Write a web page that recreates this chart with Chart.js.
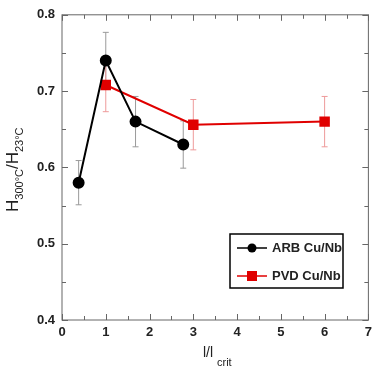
<!DOCTYPE html>
<html>
<head>
<meta charset="utf-8">
<script src="https://cdn.jsdelivr.net/npm/chart.js@4.4.0/dist/chart.umd.min.js"></script>
<style>
  body{margin:0;background:#fff}
  #wrap{width:377px;height:369px;position:relative}
</style>
</head>
<body>
<div id="wrap"><canvas id="mychart"></canvas></div>
<script>
// ARB Cu/Nb
var arbX=[0.38,1,1.68,2.77]
var arbY=[0.58,0.74,0.66,0.63]
var arbErr=[0.029,0.037,0.033,0.031]
// PVD Cu/Nb
var pvdX=[1,3,6]
var pvdY=[0.708,0.656,0.66]
var pvdErr=[0.035,0.033,0.033]

var xTicks=[0,1,2,3,4,5,6,7]
var yTicks=[0.4,0.5,0.6,0.7,0.8]

function pts(xs,ys){
  var out=[]
  for(var i=0;i<xs.length;i++) out.push({x:xs[i],y:ys[i]})
  return out
}

var font="'Liberation Sans', Arial, sans-serif"

var deco={
  id:'deco',
  beforeDatasetsDraw:function(chart){
    var ctx=chart.ctx, xs=chart.scales.x, ys=chart.scales.y
    // error bars
    function bars(xv,yv,ev,col){
      ctx.save()
      ctx.strokeStyle=col
      ctx.lineWidth=1
      for(var i=0;i<xv.length;i++){
        var px=xs.getPixelForValue(xv[i])
        var t=ys.getPixelForValue(yv[i]+ev[i])
        var b=ys.getPixelForValue(yv[i]-ev[i])
        ctx.beginPath()
        ctx.moveTo(px,t);ctx.lineTo(px,b)
        ctx.moveTo(px-3,t);ctx.lineTo(px+3,t)
        ctx.moveTo(px-3,b);ctx.lineTo(px+3,b)
        ctx.stroke()
      }
      ctx.restore()
    }
    bars(arbX,arbY,arbErr,'#9a9a9a')
    bars(pvdX,pvdY,pvdErr,'#ee9a9a')
  },
  afterDraw:function(chart){
    var ctx=chart.ctx, a=chart.chartArea, xs=chart.scales.x, ys=chart.scales.y
    ctx.save()
    ctx.strokeStyle='#666'
    ctx.lineWidth=1
    ctx.strokeRect(a.left,a.top,a.right-a.left,a.bottom-a.top)
    // tick marks (inward) on all four sides
    ctx.beginPath()
    for(var v=0;v<=7.001;v+=0.5){
      var px=Math.round(xs.getPixelForValue(v))+0.5
      var len=(Math.abs(v-Math.round(v))<0.01)?6:4
      ctx.moveTo(px,a.bottom);ctx.lineTo(px,a.bottom-len)
      ctx.moveTo(px,a.top);ctx.lineTo(px,a.top+len)
    }
    for(var k=0;k<=8;k++){
      var yv=0.4+k*0.05
      var py=Math.round(ys.getPixelForValue(yv))+0.5
      var l2=(k%2==0)?6:4
      ctx.moveTo(a.left,py);ctx.lineTo(a.left+l2,py)
      ctx.moveTo(a.right,py);ctx.lineTo(a.right-l2,py)
    }
    ctx.stroke()

    // legend box
    var lx=230,ly=234,lw=113,lh=54
    ctx.fillStyle='#fff'
    ctx.fillRect(lx,ly,lw,lh)
    ctx.strokeStyle='#000'
    ctx.lineWidth=1.5
    ctx.strokeRect(lx,ly,lw,lh)
    ctx.lineWidth=1.5
    ctx.strokeStyle='#000'
    ctx.beginPath();ctx.moveTo(237,248);ctx.lineTo(267,248);ctx.stroke()
    ctx.fillStyle='#000'
    ctx.beginPath();ctx.arc(252,248,4.5,0,Math.PI*2);ctx.fill()
    ctx.strokeStyle='#e00000'
    ctx.beginPath();ctx.moveTo(237,276);ctx.lineTo(267,276);ctx.stroke()
    ctx.fillStyle='#e00000'
    ctx.fillRect(247,271,10,10)
    ctx.fillStyle='#222'
    ctx.font='bold 13px '+font
    ctx.textBaseline='middle'
    ctx.fillText('ARB Cu/Nb',272,248)
    ctx.fillText('PVD Cu/Nb',272,276)

    // x title
    ctx.fillStyle='#222'
    ctx.textBaseline='alphabetic'
    ctx.font='14px '+font
    ctx.fillText('l/l',203,357)
    ctx.font='11px '+font
    ctx.fillText('crit',217,366)

    // y title
    ctx.translate(18,212)
    ctx.rotate(-Math.PI/2)
    var parts=[['H',17,0],['300°C',11,5],['/H',17,0],['23°C',11,5]]
    var x0=0
    parts.forEach(function(p){
      ctx.font=p[1]+'px '+font
      ctx.fillText(p[0],x0,p[2])
      x0+=ctx.measureText(p[0]).width
    })
    ctx.restore()
  }
}

var chart=new Chart(document.getElementById('mychart').getContext('2d'),{
  type:'scatter',
  data:{
    datasets:[
      {
        label:'ARB Cu/Nb',
        data:pts(arbX,arbY),
        showLine:true,
        borderColor:'#000',
        backgroundColor:'#000',
        borderWidth:2,
        pointStyle:'circle',
        pointRadius:5,
        pointHoverRadius:5
      },
      {
        label:'PVD Cu/Nb',
        data:pts(pvdX,pvdY),
        showLine:true,
        borderColor:'#e00000',
        backgroundColor:'#e00000',
        borderWidth:2,
        pointStyle:'rect',
        pointRadius:6,
        pointHoverRadius:6
      }
    ]
  },
  options:{
    responsive:true,
    maintainAspectRatio:false,
    animation:false,
    layout:{padding:{top:8,right:6,left:0,bottom:0}},
    plugins:{legend:{display:false},tooltip:{enabled:false}},
    scales:{
      x:{
        type:'linear',min:0,max:7,
        afterBuildTicks:function(s){s.ticks=xTicks.map(function(v){return {value:v}})},
        afterFit:function(s){s.height=49},
        grid:{display:false,drawTicks:false},
        border:{display:false},
        ticks:{color:'#222',padding:5,font:{family:font,size:13,weight:'bold'},callback:function(v){return v}}
      },
      y:{
        min:0.4,max:0.8,
        afterBuildTicks:function(s){s.ticks=yTicks.map(function(v){return {value:v}})},
        afterFit:function(s){s.width=62},
        grid:{display:false,drawTicks:false},
        border:{display:false},
        ticks:{color:'#222',padding:7,font:{family:font,size:13,weight:'bold'},callback:function(v){return v.toFixed(1)}}
      }
    }
  },
  plugins:[deco]
})
</script>
</body>
</html>
